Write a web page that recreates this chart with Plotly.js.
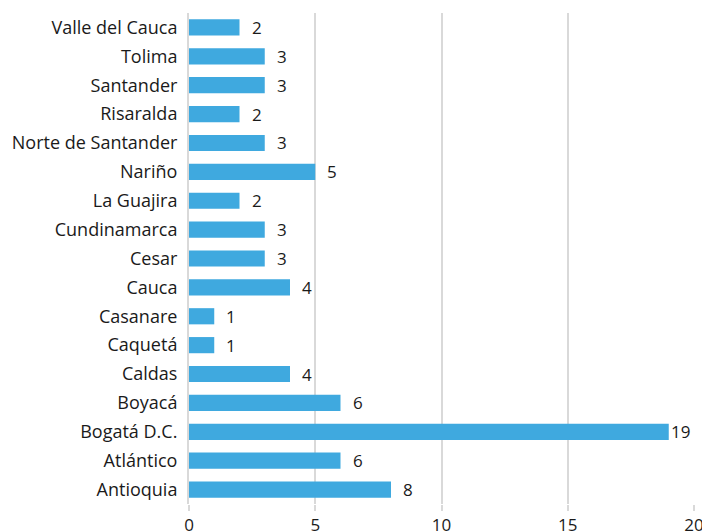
<!DOCTYPE html>
<html><head><meta charset="utf-8">
<script src="https://cdn.plot.ly/plotly-3.0.1.min.js"></script>
<style>html,body{margin:0;padding:0;background:#fff}</style>
</head><body>
<div id="chart" style="width:702px;height:531px"></div>
<script>
const departments = ["Antioquia","Atlántico","Bogatá D.C.","Boyacá","Caldas","Caquetá","Casanare","Cauca","Cesar","Cundinamarca","La Guajira","Nariño","Norte de Santander","Risaralda","Santander","Tolima","Valle del Cauca"];
const counts = [8,6,19,6,4,1,1,4,3,3,2,5,3,2,3,3,2];
const tickVals = [0,5,10,15,20];

const fam = "'Open Sans', Lato, sans-serif";
const yFont = {family: fam, size: 18, color: "#1a1a1a"};
const valFont = {family: fam, size: 17, color: "#1a1a1a"};
const xFont = {family: fam, size: 17, color: "#1a1a1a"};

const trace = {
  type: "bar", orientation: "h",
  x: counts, y: departments,
  marker: {color: "#3FA9DF"},
  width: 0.56,
  hoverinfo: "none"
};

const annotations = departments.map((d, i) => ({
  x: counts[i], y: d, xref: "x", yref: "y",
  text: String(counts[i]), showarrow: false,
  xanchor: "left", xshift: counts[i] >= 19 ? 0 : 10,
  font: valFont
}));

const layout = {
  width: 702, height: 531,
  margin: {l: 189, r: 8, t: 13, b: 27},
  paper_bgcolor: "#fff", plot_bgcolor: "#fff",
  showlegend: false,
  font: yFont,
  xaxis: {
    range: [0, 20], tickvals: tickVals, ticktext: tickVals.map(String),
    showgrid: true, gridcolor: "#d9d9d9", gridwidth: 2,
    zeroline: false, showline: false,
    ticks: "outside", ticklen: 6, tickwidth: 2, tickcolor: "#d9d9d9",
    ticklabeloverflow: "allow",
    tickfont: xFont, fixedrange: true
  },
  yaxis: {
    type: "category", showgrid: false, zeroline: false,
    showline: true, linecolor: "#d9d9d9", linewidth: 2,
    ticks: "", ticklabelstandoff: 6,
    tickfont: yFont, fixedrange: true
  },
  annotations: annotations
};

Plotly.newPlot("chart", [trace], layout, {displayModeBar: false, staticPlot: true});
</script>
</body></html>
